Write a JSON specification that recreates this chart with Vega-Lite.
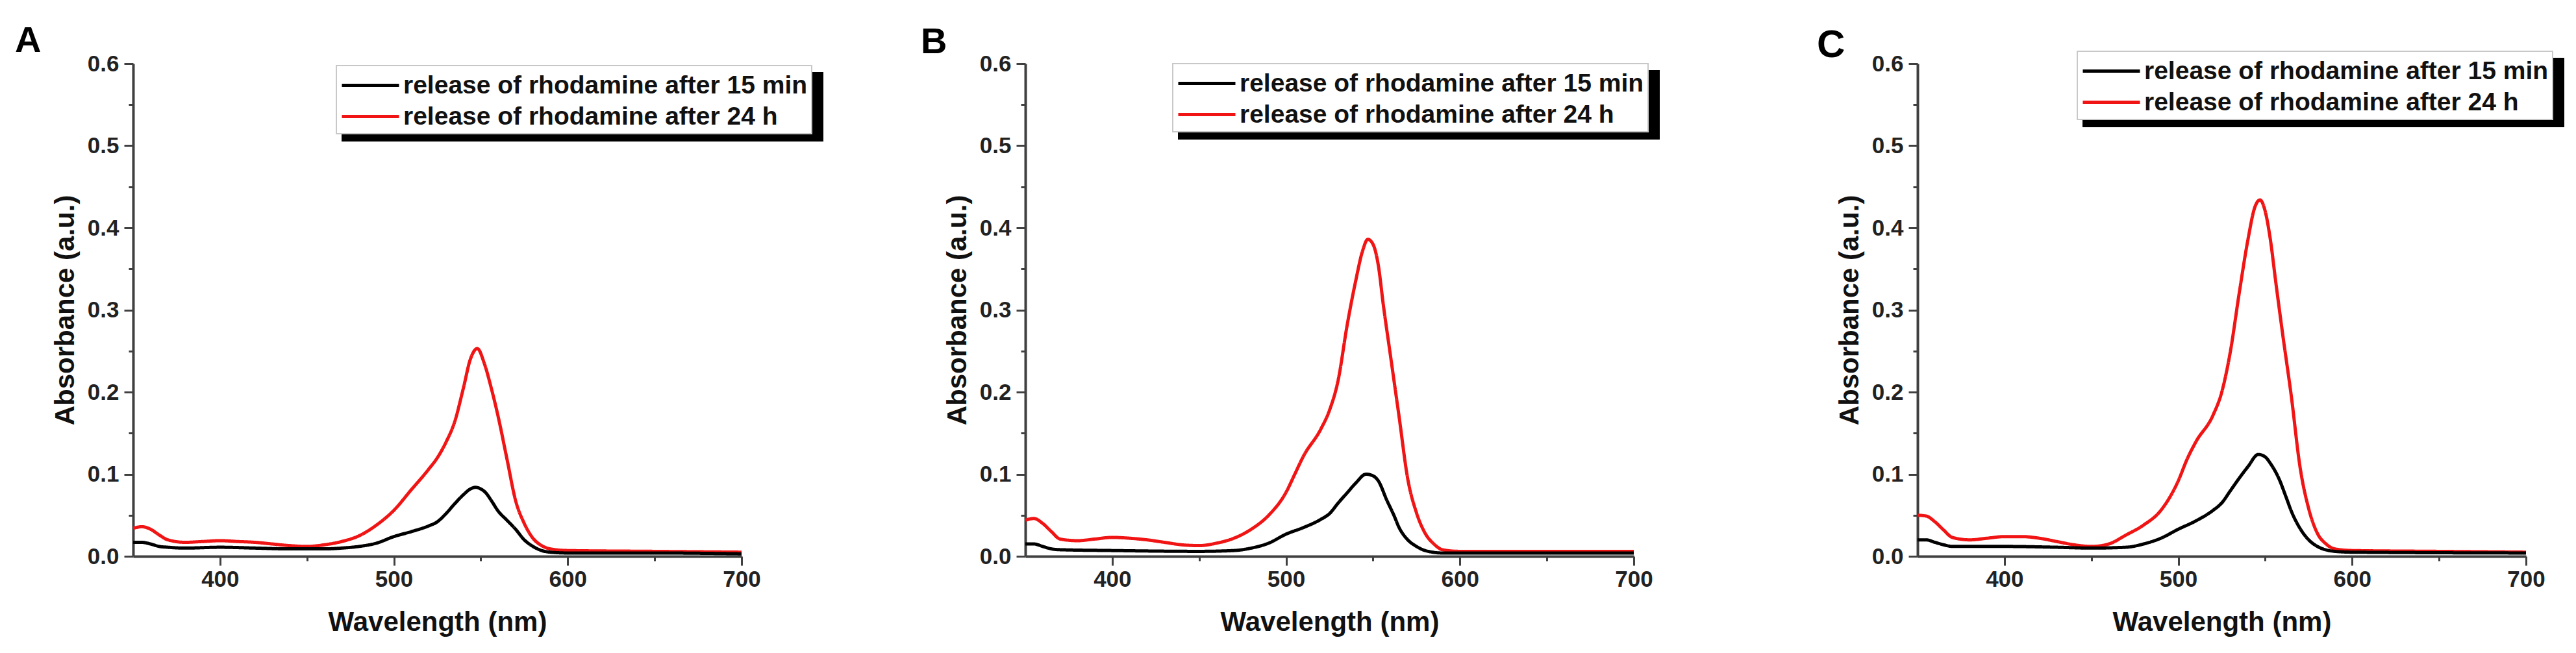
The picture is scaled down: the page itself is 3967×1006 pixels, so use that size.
{
  "$schema": "https://vega.github.io/schema/vega-lite/v6.json",
  "autosize": {"type": "pad"},
  "padding": {"left": 23, "top": 35, "right": 10, "bottom": 10},
  "background": "white",
  "bounds": "flush",
  "spacing": 437,
  "resolve": {
    "scale": {"color": "independent", "strokeDash": "independent"},
    "legend": {"color": "independent", "strokeDash": "independent"}
  },
  "datasets": {
    "A": [
      {"wl": 350, "abs": 0.034, "s": "release of rhodamine after 24 h"},
      {"wl": 355, "abs": 0.036, "s": "release of rhodamine after 24 h"},
      {"wl": 360, "abs": 0.033, "s": "release of rhodamine after 24 h"},
      {"wl": 365, "abs": 0.026, "s": "release of rhodamine after 24 h"},
      {"wl": 370, "abs": 0.020, "s": "release of rhodamine after 24 h"},
      {"wl": 380, "abs": 0.017, "s": "release of rhodamine after 24 h"},
      {"wl": 390, "abs": 0.018, "s": "release of rhodamine after 24 h"},
      {"wl": 400, "abs": 0.019, "s": "release of rhodamine after 24 h"},
      {"wl": 410, "abs": 0.018, "s": "release of rhodamine after 24 h"},
      {"wl": 420, "abs": 0.017, "s": "release of rhodamine after 24 h"},
      {"wl": 430, "abs": 0.015, "s": "release of rhodamine after 24 h"},
      {"wl": 440, "abs": 0.013, "s": "release of rhodamine after 24 h"},
      {"wl": 450, "abs": 0.012, "s": "release of rhodamine after 24 h"},
      {"wl": 460, "abs": 0.014, "s": "release of rhodamine after 24 h"},
      {"wl": 470, "abs": 0.018, "s": "release of rhodamine after 24 h"},
      {"wl": 480, "abs": 0.025, "s": "release of rhodamine after 24 h"},
      {"wl": 490, "abs": 0.038, "s": "release of rhodamine after 24 h"},
      {"wl": 500, "abs": 0.056, "s": "release of rhodamine after 24 h"},
      {"wl": 510, "abs": 0.081, "s": "release of rhodamine after 24 h"},
      {"wl": 520, "abs": 0.106, "s": "release of rhodamine after 24 h"},
      {"wl": 525, "abs": 0.120, "s": "release of rhodamine after 24 h"},
      {"wl": 530, "abs": 0.139, "s": "release of rhodamine after 24 h"},
      {"wl": 535, "abs": 0.164, "s": "release of rhodamine after 24 h"},
      {"wl": 540, "abs": 0.205, "s": "release of rhodamine after 24 h"},
      {"wl": 544, "abs": 0.240, "s": "release of rhodamine after 24 h"},
      {"wl": 548, "abs": 0.253, "s": "release of rhodamine after 24 h"},
      {"wl": 552, "abs": 0.235, "s": "release of rhodamine after 24 h"},
      {"wl": 556, "abs": 0.205, "s": "release of rhodamine after 24 h"},
      {"wl": 560, "abs": 0.170, "s": "release of rhodamine after 24 h"},
      {"wl": 565, "abs": 0.119, "s": "release of rhodamine after 24 h"},
      {"wl": 570, "abs": 0.068, "s": "release of rhodamine after 24 h"},
      {"wl": 575, "abs": 0.040, "s": "release of rhodamine after 24 h"},
      {"wl": 580, "abs": 0.022, "s": "release of rhodamine after 24 h"},
      {"wl": 585, "abs": 0.013, "s": "release of rhodamine after 24 h"},
      {"wl": 590, "abs": 0.009, "s": "release of rhodamine after 24 h"},
      {"wl": 600, "abs": 0.007, "s": "release of rhodamine after 24 h"},
      {"wl": 650, "abs": 0.006, "s": "release of rhodamine after 24 h"},
      {"wl": 700, "abs": 0.005, "s": "release of rhodamine after 24 h"},
      {"wl": 350, "abs": 0.017, "s": "release of rhodamine after 15 min"},
      {"wl": 355, "abs": 0.017, "s": "release of rhodamine after 15 min"},
      {"wl": 360, "abs": 0.015, "s": "release of rhodamine after 15 min"},
      {"wl": 365, "abs": 0.012, "s": "release of rhodamine after 15 min"},
      {"wl": 370, "abs": 0.011, "s": "release of rhodamine after 15 min"},
      {"wl": 380, "abs": 0.010, "s": "release of rhodamine after 15 min"},
      {"wl": 400, "abs": 0.011, "s": "release of rhodamine after 15 min"},
      {"wl": 420, "abs": 0.010, "s": "release of rhodamine after 15 min"},
      {"wl": 440, "abs": 0.009, "s": "release of rhodamine after 15 min"},
      {"wl": 460, "abs": 0.009, "s": "release of rhodamine after 15 min"},
      {"wl": 470, "abs": 0.010, "s": "release of rhodamine after 15 min"},
      {"wl": 480, "abs": 0.012, "s": "release of rhodamine after 15 min"},
      {"wl": 490, "abs": 0.016, "s": "release of rhodamine after 15 min"},
      {"wl": 500, "abs": 0.024, "s": "release of rhodamine after 15 min"},
      {"wl": 510, "abs": 0.030, "s": "release of rhodamine after 15 min"},
      {"wl": 520, "abs": 0.037, "s": "release of rhodamine after 15 min"},
      {"wl": 525, "abs": 0.042, "s": "release of rhodamine after 15 min"},
      {"wl": 530, "abs": 0.052, "s": "release of rhodamine after 15 min"},
      {"wl": 535, "abs": 0.064, "s": "release of rhodamine after 15 min"},
      {"wl": 540, "abs": 0.075, "s": "release of rhodamine after 15 min"},
      {"wl": 544, "abs": 0.082, "s": "release of rhodamine after 15 min"},
      {"wl": 547, "abs": 0.084, "s": "release of rhodamine after 15 min"},
      {"wl": 550, "abs": 0.082, "s": "release of rhodamine after 15 min"},
      {"wl": 553, "abs": 0.077, "s": "release of rhodamine after 15 min"},
      {"wl": 556, "abs": 0.068, "s": "release of rhodamine after 15 min"},
      {"wl": 560, "abs": 0.055, "s": "release of rhodamine after 15 min"},
      {"wl": 565, "abs": 0.044, "s": "release of rhodamine after 15 min"},
      {"wl": 570, "abs": 0.033, "s": "release of rhodamine after 15 min"},
      {"wl": 575, "abs": 0.020, "s": "release of rhodamine after 15 min"},
      {"wl": 580, "abs": 0.012, "s": "release of rhodamine after 15 min"},
      {"wl": 585, "abs": 0.007, "s": "release of rhodamine after 15 min"},
      {"wl": 590, "abs": 0.005, "s": "release of rhodamine after 15 min"},
      {"wl": 600, "abs": 0.004, "s": "release of rhodamine after 15 min"},
      {"wl": 650, "abs": 0.004, "s": "release of rhodamine after 15 min"},
      {"wl": 700, "abs": 0.003, "s": "release of rhodamine after 15 min"}
    ],
    "B": [
      {"wl": 350, "abs": 0.044, "s": "release of rhodamine after 24 h"},
      {"wl": 355, "abs": 0.046, "s": "release of rhodamine after 24 h"},
      {"wl": 360, "abs": 0.040, "s": "release of rhodamine after 24 h"},
      {"wl": 365, "abs": 0.030, "s": "release of rhodamine after 24 h"},
      {"wl": 370, "abs": 0.021, "s": "release of rhodamine after 24 h"},
      {"wl": 380, "abs": 0.019, "s": "release of rhodamine after 24 h"},
      {"wl": 390, "abs": 0.021, "s": "release of rhodamine after 24 h"},
      {"wl": 400, "abs": 0.023, "s": "release of rhodamine after 24 h"},
      {"wl": 410, "abs": 0.022, "s": "release of rhodamine after 24 h"},
      {"wl": 420, "abs": 0.020, "s": "release of rhodamine after 24 h"},
      {"wl": 430, "abs": 0.017, "s": "release of rhodamine after 24 h"},
      {"wl": 440, "abs": 0.014, "s": "release of rhodamine after 24 h"},
      {"wl": 450, "abs": 0.013, "s": "release of rhodamine after 24 h"},
      {"wl": 460, "abs": 0.016, "s": "release of rhodamine after 24 h"},
      {"wl": 470, "abs": 0.022, "s": "release of rhodamine after 24 h"},
      {"wl": 480, "abs": 0.033, "s": "release of rhodamine after 24 h"},
      {"wl": 490, "abs": 0.050, "s": "release of rhodamine after 24 h"},
      {"wl": 500, "abs": 0.078, "s": "release of rhodamine after 24 h"},
      {"wl": 505, "abs": 0.100, "s": "release of rhodamine after 24 h"},
      {"wl": 510, "abs": 0.122, "s": "release of rhodamine after 24 h"},
      {"wl": 520, "abs": 0.155, "s": "release of rhodamine after 24 h"},
      {"wl": 525, "abs": 0.178, "s": "release of rhodamine after 24 h"},
      {"wl": 530, "abs": 0.215, "s": "release of rhodamine after 24 h"},
      {"wl": 535, "abs": 0.280, "s": "release of rhodamine after 24 h"},
      {"wl": 540, "abs": 0.335, "s": "release of rhodamine after 24 h"},
      {"wl": 544, "abs": 0.372, "s": "release of rhodamine after 24 h"},
      {"wl": 547, "abs": 0.386, "s": "release of rhodamine after 24 h"},
      {"wl": 550, "abs": 0.380, "s": "release of rhodamine after 24 h"},
      {"wl": 553, "abs": 0.355, "s": "release of rhodamine after 24 h"},
      {"wl": 556, "abs": 0.305, "s": "release of rhodamine after 24 h"},
      {"wl": 560, "abs": 0.245, "s": "release of rhodamine after 24 h"},
      {"wl": 565, "abs": 0.170, "s": "release of rhodamine after 24 h"},
      {"wl": 570, "abs": 0.094, "s": "release of rhodamine after 24 h"},
      {"wl": 575, "abs": 0.053, "s": "release of rhodamine after 24 h"},
      {"wl": 580, "abs": 0.028, "s": "release of rhodamine after 24 h"},
      {"wl": 585, "abs": 0.015, "s": "release of rhodamine after 24 h"},
      {"wl": 590, "abs": 0.008, "s": "release of rhodamine after 24 h"},
      {"wl": 600, "abs": 0.006, "s": "release of rhodamine after 24 h"},
      {"wl": 650, "abs": 0.006, "s": "release of rhodamine after 24 h"},
      {"wl": 700, "abs": 0.006, "s": "release of rhodamine after 24 h"},
      {"wl": 350, "abs": 0.015, "s": "release of rhodamine after 15 min"},
      {"wl": 355, "abs": 0.015, "s": "release of rhodamine after 15 min"},
      {"wl": 360, "abs": 0.012, "s": "release of rhodamine after 15 min"},
      {"wl": 365, "abs": 0.009, "s": "release of rhodamine after 15 min"},
      {"wl": 370, "abs": 0.008, "s": "release of rhodamine after 15 min"},
      {"wl": 400, "abs": 0.007, "s": "release of rhodamine after 15 min"},
      {"wl": 450, "abs": 0.006, "s": "release of rhodamine after 15 min"},
      {"wl": 470, "abs": 0.007, "s": "release of rhodamine after 15 min"},
      {"wl": 480, "abs": 0.010, "s": "release of rhodamine after 15 min"},
      {"wl": 490, "abs": 0.016, "s": "release of rhodamine after 15 min"},
      {"wl": 500, "abs": 0.027, "s": "release of rhodamine after 15 min"},
      {"wl": 510, "abs": 0.035, "s": "release of rhodamine after 15 min"},
      {"wl": 520, "abs": 0.045, "s": "release of rhodamine after 15 min"},
      {"wl": 525, "abs": 0.052, "s": "release of rhodamine after 15 min"},
      {"wl": 530, "abs": 0.065, "s": "release of rhodamine after 15 min"},
      {"wl": 535, "abs": 0.077, "s": "release of rhodamine after 15 min"},
      {"wl": 540, "abs": 0.089, "s": "release of rhodamine after 15 min"},
      {"wl": 546, "abs": 0.100, "s": "release of rhodamine after 15 min"},
      {"wl": 550, "abs": 0.098, "s": "release of rhodamine after 15 min"},
      {"wl": 553, "abs": 0.092, "s": "release of rhodamine after 15 min"},
      {"wl": 558, "abs": 0.068, "s": "release of rhodamine after 15 min"},
      {"wl": 562, "abs": 0.050, "s": "release of rhodamine after 15 min"},
      {"wl": 565, "abs": 0.035, "s": "release of rhodamine after 15 min"},
      {"wl": 570, "abs": 0.020, "s": "release of rhodamine after 15 min"},
      {"wl": 575, "abs": 0.012, "s": "release of rhodamine after 15 min"},
      {"wl": 580, "abs": 0.007, "s": "release of rhodamine after 15 min"},
      {"wl": 590, "abs": 0.004, "s": "release of rhodamine after 15 min"},
      {"wl": 600, "abs": 0.004, "s": "release of rhodamine after 15 min"},
      {"wl": 700, "abs": 0.004, "s": "release of rhodamine after 15 min"}
    ],
    "C": [
      {"wl": 350, "abs": 0.050, "s": "release of rhodamine after 24 h"},
      {"wl": 355, "abs": 0.049, "s": "release of rhodamine after 24 h"},
      {"wl": 360, "abs": 0.042, "s": "release of rhodamine after 24 h"},
      {"wl": 365, "abs": 0.032, "s": "release of rhodamine after 24 h"},
      {"wl": 370, "abs": 0.023, "s": "release of rhodamine after 24 h"},
      {"wl": 380, "abs": 0.020, "s": "release of rhodamine after 24 h"},
      {"wl": 390, "abs": 0.022, "s": "release of rhodamine after 24 h"},
      {"wl": 400, "abs": 0.024, "s": "release of rhodamine after 24 h"},
      {"wl": 410, "abs": 0.024, "s": "release of rhodamine after 24 h"},
      {"wl": 420, "abs": 0.022, "s": "release of rhodamine after 24 h"},
      {"wl": 430, "abs": 0.018, "s": "release of rhodamine after 24 h"},
      {"wl": 440, "abs": 0.014, "s": "release of rhodamine after 24 h"},
      {"wl": 450, "abs": 0.012, "s": "release of rhodamine after 24 h"},
      {"wl": 460, "abs": 0.015, "s": "release of rhodamine after 24 h"},
      {"wl": 470, "abs": 0.026, "s": "release of rhodamine after 24 h"},
      {"wl": 480, "abs": 0.038, "s": "release of rhodamine after 24 h"},
      {"wl": 490, "abs": 0.056, "s": "release of rhodamine after 24 h"},
      {"wl": 500, "abs": 0.092, "s": "release of rhodamine after 24 h"},
      {"wl": 505, "abs": 0.118, "s": "release of rhodamine after 24 h"},
      {"wl": 510, "abs": 0.139, "s": "release of rhodamine after 24 h"},
      {"wl": 520, "abs": 0.172, "s": "release of rhodamine after 24 h"},
      {"wl": 525, "abs": 0.200, "s": "release of rhodamine after 24 h"},
      {"wl": 530, "abs": 0.250, "s": "release of rhodamine after 24 h"},
      {"wl": 535, "abs": 0.320, "s": "release of rhodamine after 24 h"},
      {"wl": 540, "abs": 0.385, "s": "release of rhodamine after 24 h"},
      {"wl": 544, "abs": 0.425, "s": "release of rhodamine after 24 h"},
      {"wl": 547, "abs": 0.434, "s": "release of rhodamine after 24 h"},
      {"wl": 550, "abs": 0.420, "s": "release of rhodamine after 24 h"},
      {"wl": 553, "abs": 0.385, "s": "release of rhodamine after 24 h"},
      {"wl": 556, "abs": 0.335, "s": "release of rhodamine after 24 h"},
      {"wl": 560, "abs": 0.271, "s": "release of rhodamine after 24 h"},
      {"wl": 565, "abs": 0.195, "s": "release of rhodamine after 24 h"},
      {"wl": 570, "abs": 0.109, "s": "release of rhodamine after 24 h"},
      {"wl": 575, "abs": 0.058, "s": "release of rhodamine after 24 h"},
      {"wl": 580, "abs": 0.028, "s": "release of rhodamine after 24 h"},
      {"wl": 585, "abs": 0.015, "s": "release of rhodamine after 24 h"},
      {"wl": 590, "abs": 0.009, "s": "release of rhodamine after 24 h"},
      {"wl": 600, "abs": 0.007, "s": "release of rhodamine after 24 h"},
      {"wl": 650, "abs": 0.006, "s": "release of rhodamine after 24 h"},
      {"wl": 700, "abs": 0.005, "s": "release of rhodamine after 24 h"},
      {"wl": 350, "abs": 0.020, "s": "release of rhodamine after 15 min"},
      {"wl": 355, "abs": 0.020, "s": "release of rhodamine after 15 min"},
      {"wl": 360, "abs": 0.017, "s": "release of rhodamine after 15 min"},
      {"wl": 365, "abs": 0.014, "s": "release of rhodamine after 15 min"},
      {"wl": 370, "abs": 0.012, "s": "release of rhodamine after 15 min"},
      {"wl": 400, "abs": 0.012, "s": "release of rhodamine after 15 min"},
      {"wl": 430, "abs": 0.011, "s": "release of rhodamine after 15 min"},
      {"wl": 450, "abs": 0.010, "s": "release of rhodamine after 15 min"},
      {"wl": 470, "abs": 0.011, "s": "release of rhodamine after 15 min"},
      {"wl": 480, "abs": 0.015, "s": "release of rhodamine after 15 min"},
      {"wl": 490, "abs": 0.022, "s": "release of rhodamine after 15 min"},
      {"wl": 500, "abs": 0.033, "s": "release of rhodamine after 15 min"},
      {"wl": 510, "abs": 0.043, "s": "release of rhodamine after 15 min"},
      {"wl": 520, "abs": 0.056, "s": "release of rhodamine after 15 min"},
      {"wl": 525, "abs": 0.065, "s": "release of rhodamine after 15 min"},
      {"wl": 530, "abs": 0.080, "s": "release of rhodamine after 15 min"},
      {"wl": 535, "abs": 0.095, "s": "release of rhodamine after 15 min"},
      {"wl": 540, "abs": 0.109, "s": "release of rhodamine after 15 min"},
      {"wl": 546, "abs": 0.124, "s": "release of rhodamine after 15 min"},
      {"wl": 550, "abs": 0.121, "s": "release of rhodamine after 15 min"},
      {"wl": 553, "abs": 0.113, "s": "release of rhodamine after 15 min"},
      {"wl": 558, "abs": 0.094, "s": "release of rhodamine after 15 min"},
      {"wl": 562, "abs": 0.072, "s": "release of rhodamine after 15 min"},
      {"wl": 565, "abs": 0.055, "s": "release of rhodamine after 15 min"},
      {"wl": 570, "abs": 0.034, "s": "release of rhodamine after 15 min"},
      {"wl": 575, "abs": 0.020, "s": "release of rhodamine after 15 min"},
      {"wl": 580, "abs": 0.012, "s": "release of rhodamine after 15 min"},
      {"wl": 590, "abs": 0.006, "s": "release of rhodamine after 15 min"},
      {"wl": 600, "abs": 0.005, "s": "release of rhodamine after 15 min"},
      {"wl": 700, "abs": 0.004, "s": "release of rhodamine after 15 min"}
    ]
  },
  "config": {
    "view": {"stroke": null},
    "font": "Liberation Sans",
    "axis": {
      "grid": false,
      "domainColor": "#404040",
      "domainWidth": 4,
      "tickColor": "#404040",
      "tickWidth": 3,
      "tickSize": 14,
      "labelFont": "Liberation Sans",
      "labelFontSize": 35,
      "labelFontWeight": "bold",
      "labelColor": "#222222",
      "labelPadding": 8,
      "labelFlush": false,
      "labelOverlap": false,
      "titleFont": "Liberation Sans",
      "titleFontSize": 42,
      "titleFontWeight": "bold",
      "titleColor": "#111111"
    },
    "axisX": {"titlePadding": 28, "labelPadding": 4},
    "axisY": {"titlePadding": 12},
    "legend": {
      "orient": "none",
      "padding": 6,
      "fillColor": "white",
      "strokeColor": "#c8c8c8",
      "strokeWidth": 2,
      "symbolType": "M-1,0H3",
      "symbolSize": 1936,
      "symbolStrokeWidth": 5,
      "labelFont": "Liberation Sans",
      "labelFontSize": 39,
      "labelFontWeight": "bold",
      "labelColor": "#111111",
      "labelOffset": 48,
      "labelLimit": 0,
      "rowPadding": 3
    },
    "title": {
      "font": "Liberation Sans",
      "fontSize": 56,
      "fontWeight": "bold",
      "anchor": "start",
      "frame": "group",
      "offset": 0,
      "color": "#000000"
    }
  },
  "hconcat": [
    {
      "width": 937, "height": 759,
      "title": {"text": "A", "dx": -182, "dy": 15},
      "data": {"name": "A"},
      "layer": [
        {
          "mark": {"type": "line", "interpolate": "monotone", "strokeWidth": 5},
          "encoding": {
            "x": {"field": "wl", "type": "quantitative", "scale": {"domain": [350, 700], "nice": false, "zero": false}, "axis": {"values": [400, 500, 600, 700], "title": "Wavelength (nm)"}},
            "y": {"field": "abs", "type": "quantitative", "scale": {"domain": [0, 0.6], "nice": false}, "axis": {"values": [0, 0.1, 0.2, 0.3, 0.4, 0.5, 0.6], "format": ".1f", "title": "Absorbance (a.u.)"}},
            "color": {"field": "s", "type": "nominal", "scale": {"range": ["#000000", "#f01414"]}, "legend": {"title": null, "legendX": 313, "legendY": 3, "zindex": 2}},
            "strokeDash": {"field": "s", "type": "nominal", "scale": {"domain": ["release of rhodamine after 15 min", "release of rhodamine after 24 h"], "range": [[1, 0], [1, 0]]}, "legend": {"title": null, "legendX": 322, "legendY": 14, "zindex": 1, "fillColor": "#000000", "strokeColor": "#000000", "labelExpr": "''", "symbolType": "M-1,0H31.5", "symbolStrokeColor": "#000000"}}
          }
        },
        {
          "mark": {"type": "line", "opacity": 0},
          "encoding": {
            "x": {"field": "wl", "type": "quantitative", "axis": {"orient": "bottom", "values": [450, 550, 650], "labels": false, "domain": false, "tickSize": 7, "title": null}},
            "y": {"field": "abs", "type": "quantitative", "axis": {"orient": "left", "values": [0.05, 0.15, 0.25, 0.35, 0.45, 0.55], "labels": false, "domain": false, "tickSize": 7, "title": null}}
          }
        }
      ],
      "resolve": {"axis": {"x": "independent", "y": "independent"}}
    },
    {
      "width": 937, "height": 759,
      "title": {"text": "B", "dx": -161, "dy": 17},
      "data": {"name": "B"},
      "layer": [
        {
          "mark": {"type": "line", "interpolate": "monotone", "strokeWidth": 5},
          "encoding": {
            "x": {"field": "wl", "type": "quantitative", "scale": {"domain": [350, 700], "nice": false, "zero": false}, "axis": {"values": [400, 500, 600, 700], "title": "Wavelength (nm)"}},
            "y": {"field": "abs", "type": "quantitative", "scale": {"domain": [0, 0.6], "nice": false}, "axis": {"values": [0, 0.1, 0.2, 0.3, 0.4, 0.5, 0.6], "format": ".1f", "title": "Absorbance (a.u.)"}},
            "color": {"field": "s", "type": "nominal", "scale": {"range": ["#000000", "#f01414"]}, "legend": {"title": null, "legendX": 227, "legendY": 0, "zindex": 2}},
            "strokeDash": {"field": "s", "type": "nominal", "scale": {"domain": ["release of rhodamine after 15 min", "release of rhodamine after 24 h"], "range": [[1, 0], [1, 0]]}, "legend": {"title": null, "legendX": 236, "legendY": 11, "zindex": 1, "fillColor": "#000000", "strokeColor": "#000000", "labelExpr": "''", "symbolType": "M-1,0H31.5", "symbolStrokeColor": "#000000"}}
          }
        },
        {
          "mark": {"type": "line", "opacity": 0},
          "encoding": {
            "x": {"field": "wl", "type": "quantitative", "axis": {"orient": "bottom", "values": [450, 550, 650], "labels": false, "domain": false, "tickSize": 7, "title": null}},
            "y": {"field": "abs", "type": "quantitative", "axis": {"orient": "left", "values": [0.05, 0.15, 0.25, 0.35, 0.45, 0.55], "labels": false, "domain": false, "tickSize": 7, "title": null}}
          }
        }
      ],
      "resolve": {"axis": {"x": "independent", "y": "independent"}}
    },
    {
      "width": 937, "height": 759,
      "title": {"text": "C", "dx": -155, "dy": 27, "fontSize": 60},
      "data": {"name": "C"},
      "layer": [
        {
          "mark": {"type": "line", "interpolate": "monotone", "strokeWidth": 5},
          "encoding": {
            "x": {"field": "wl", "type": "quantitative", "scale": {"domain": [350, 700], "nice": false, "zero": false}, "axis": {"values": [400, 500, 600, 700], "title": "Wavelength (nm)"}},
            "y": {"field": "abs", "type": "quantitative", "scale": {"domain": [0, 0.6], "nice": false}, "axis": {"values": [0, 0.1, 0.2, 0.3, 0.4, 0.5, 0.6], "format": ".1f", "title": "Absorbance (a.u.)"}},
            "color": {"field": "s", "type": "nominal", "scale": {"range": ["#000000", "#f01414"]}, "legend": {"title": null, "legendX": 246, "legendY": -19, "zindex": 2}},
            "strokeDash": {"field": "s", "type": "nominal", "scale": {"domain": ["release of rhodamine after 15 min", "release of rhodamine after 24 h"], "range": [[1, 0], [1, 0]]}, "legend": {"title": null, "legendX": 255, "legendY": -8, "zindex": 1, "fillColor": "#000000", "strokeColor": "#000000", "labelExpr": "''", "symbolType": "M-1,0H31.5", "symbolStrokeColor": "#000000"}}
          }
        },
        {
          "mark": {"type": "line", "opacity": 0},
          "encoding": {
            "x": {"field": "wl", "type": "quantitative", "axis": {"orient": "bottom", "values": [450, 550, 650], "labels": false, "domain": false, "tickSize": 7, "title": null}},
            "y": {"field": "abs", "type": "quantitative", "axis": {"orient": "left", "values": [0.05, 0.15, 0.25, 0.35, 0.45, 0.55], "labels": false, "domain": false, "tickSize": 7, "title": null}}
          }
        }
      ],
      "resolve": {"axis": {"x": "independent", "y": "independent"}}
    }
  ]
}
